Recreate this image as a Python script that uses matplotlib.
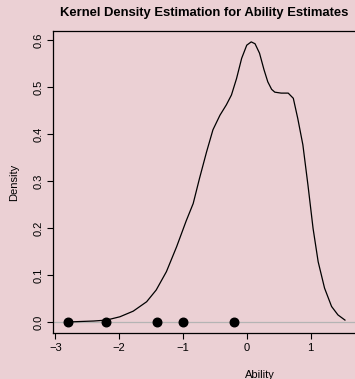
import numpy as np
import matplotlib
matplotlib.use("Agg")
import matplotlib.pyplot as plt

plt.rcParams['font.family'] = ['Liberation Sans', 'DejaVu Sans']

# Density curve
ability_grid = [-2.80, -2.60, -2.40, -2.20, -1.99, -1.78, -1.57, -1.42, -1.26, -1.10,
                -0.95, -0.84, -0.74, -0.63, -0.53, -0.42, -0.32, -0.24, -0.16, -0.08,
                0.00, 0.07, 0.13, 0.20, 0.27, 0.33, 0.39, 0.44, 0.54, 0.65,
                0.73, 0.80, 0.88, 0.96, 1.04, 1.12, 1.22, 1.33, 1.43, 1.54]
density = [0.000, 0.001, 0.002, 0.004, 0.011, 0.023, 0.043, 0.068, 0.107, 0.160,
           0.215, 0.252, 0.306, 0.362, 0.409, 0.440, 0.462, 0.483, 0.518, 0.561,
           0.589, 0.596, 0.592, 0.572, 0.537, 0.511, 0.495, 0.489, 0.487, 0.487,
           0.476, 0.433, 0.377, 0.291, 0.199, 0.128, 0.072, 0.033, 0.015, 0.004]

# Ability estimates shown as points on the axis
ability_points = [-2.8, -2.2, -1.4, -1.0, -0.2]

x_ticks = [-3, -2, -1, 0, 1]
y_ticks = [0.0, 0.1, 0.2, 0.3, 0.4, 0.5, 0.6]

bg = '#EBD0D4'

fig = plt.figure(figsize=(3.55, 3.79), dpi=100, facecolor=bg)
ax = fig.add_axes([0.149, 0.121, 1.164, 0.797], facecolor=bg)

ax.axhline(0, color='#B4B4B4', lw=0.9, zorder=1)
ax.plot(ability_grid, density, color='black', lw=0.9, zorder=2)
ax.scatter(ability_points, np.zeros(len(ability_points)), s=38, color='black',
           zorder=3, clip_on=False)

ax.set_xlim(-3.04, 3.44)
ax.set_ylim(-0.0238, 0.619)
ax.set_xticks(x_ticks)
ax.set_xticklabels([f'{t}'.replace('-', '\u2212') for t in x_ticks])
ax.set_yticks(y_ticks)
ax.set_yticklabels([f'{t:.1f}' for t in y_ticks], rotation=90, va='center')

ax.tick_params(direction='out', length=4, width=0.8, labelsize=8, pad=3,
               color='black')
for s in ax.spines.values():
    s.set_color('black')
    s.set_linewidth(0.9)

ax.set_xlabel('Ability', fontsize=8, labelpad=12.5)
ax.set_ylabel('Density', fontsize=8, labelpad=10)
fig.text(0.576, 0.966, 'Kernel Density Estimation for Ability Estimates',
         ha='center', va='center', fontsize=9.4, fontweight='bold')

fig.savefig('out.png', dpi=100, facecolor=bg)
